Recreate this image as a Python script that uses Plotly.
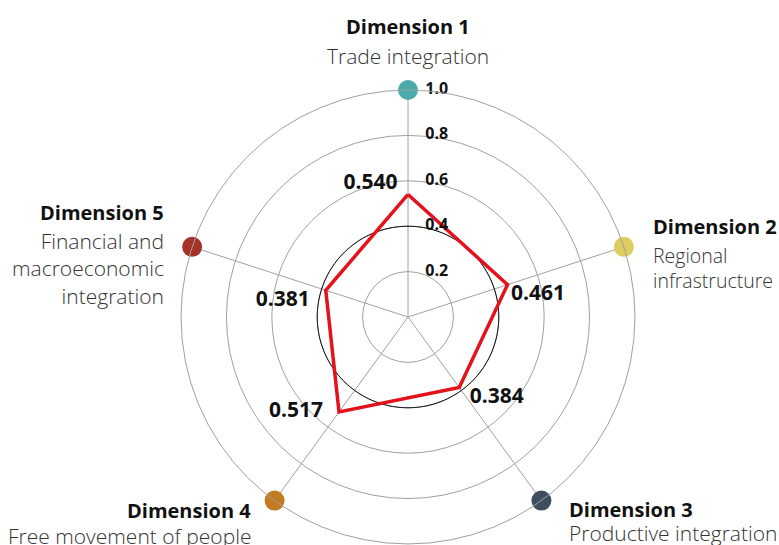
import plotly.graph_objects as go

# ---- data ----
dimensions = ["Dimension 1", "Dimension 2", "Dimension 3", "Dimension 4", "Dimension 5"]
subtitles = ["Trade integration", "Regional<br>infrastructure", "Productive integration",
             "Free movement of people", "Financial and<br>macroeconomic<br>integration"]
scores = [0.540, 0.461, 0.384, 0.517, 0.381]
score_labels = ["0.540", "0.461", "0.384", "0.517", "0.381"]
dot_colors = ["#4AABAA", "#DDCC5E", "#3F4E5E", "#C27B1E", "#A6332A"]
radial_ticks = [0.2, 0.4, 0.6, 0.8, 1.0]
radial_tick_labels = ["0.2", "0.4", "0.6", "0.8", "1.0"]
ref_level = 0.4
axis_max = 1.0

angles = [i * 360 / len(dimensions) for i in range(len(dimensions))]

fig = go.Figure()

# reference circle
circle_theta = list(range(0, 361, 2))
fig.add_trace(go.Scatterpolar(
    r=[ref_level] * len(circle_theta), theta=circle_theta, mode="lines",
    line=dict(color="#111111", width=1), hoverinfo="skip", showlegend=False))

# score polygon
fig.add_trace(go.Scatterpolar(
    r=scores + [scores[0]], theta=angles + [angles[0]], mode="lines",
    line=dict(color="#E3121B", width=3.5), showlegend=False, hoverinfo="skip"))

# score labels (padding spaces only nudge text away from the vertex)
pad_l = "\u2002 "
score_text = [score_labels[0] + "\u2002", "\u2009" + score_labels[1], "\u2002" + score_labels[2],
              score_labels[3] + pad_l, score_labels[4] + pad_l]
fig.add_trace(go.Scatterpolar(
    r=scores, theta=angles, mode="text", text=score_text,
    textposition=["top left", "bottom right", "bottom right", "middle left", "bottom left"],
    textfont=dict(family="Open Sans", size=21, color="#111111", weight="bold"),
    showlegend=False, hoverinfo="skip", cliponaxis=False))

# radial tick labels
fig.add_trace(go.Scatterpolar(
    r=radial_ticks, theta=[0] * len(radial_ticks), mode="markers+text",
    marker=dict(size=26, color="rgba(0,0,0,0)"), text=radial_tick_labels,
    textposition="middle right",
    textfont=dict(family="Open Sans", size=16, color="#111111", weight="bold"),
    showlegend=False, hoverinfo="skip", cliponaxis=False))

# end dots
fig.add_trace(go.Scatterpolar(
    r=[axis_max] * len(dimensions), theta=angles, mode="markers",
    marker=dict(size=20, color=dot_colors), showlegend=False, hoverinfo="skip",
    cliponaxis=False))

fig.update_layout(
    width=779, height=545,
    margin=dict(l=0, r=0, t=0, b=0),
    paper_bgcolor="white",
    polar=dict(
        domain=dict(x=[0.2324, 0.8151], y=[0.0018, 0.8349]),
        bgcolor="white",
        angularaxis=dict(rotation=90, direction="clockwise", tickvals=angles,
                         showticklabels=False, ticks="", gridcolor="#A0A0A0",
                         gridwidth=1, showline=True, linecolor="#A0A0A0", linewidth=1),
        radialaxis=dict(range=[0, axis_max], tickvals=radial_ticks, showticklabels=False,
                        ticks="", gridcolor="#A0A0A0", gridwidth=1, showline=False),
    ),
)

# dimension labels: (x, y of bold line, anchor, gap to subtitle, subtitle size)
label_pos = [
    (408, 26, "center", 14, 21),
    (651, 226, "left", 14, 19.5),
    (567, 509, "left", 8, 21),
    (253, 510, "right", 10, 21),
    (166, 212, "right", 13, 21),
]
W, H = 779, 545
for (x, y, al, gap, fs), d, s in zip(label_pos, dimensions, subtitles):
    fig.add_annotation(
        x=x / W, y=1 - y / H, xref="paper", yref="paper", xanchor=al, yanchor="middle",
        text=f"<b>{d}</b>", showarrow=False, align=al,
        font=dict(family="Open Sans", size=20, color="#111111"))
    fig.add_annotation(
        x=x / W, y=1 - (y + gap) / H, xref="paper", yref="paper", xanchor=al, yanchor="top",
        text=s, showarrow=False, align=al,
        font=dict(family="Open Sans", size=fs, color="#333333", weight=300))

fig.write_html("out.html", config={"displayModeBar": False},
               post_script="document.body.style.margin='0';document.body.style.overflow='hidden';")
